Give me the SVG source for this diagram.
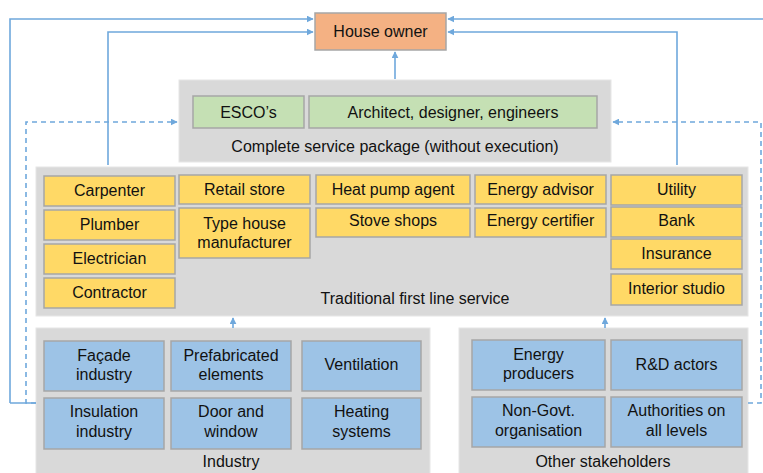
<svg xmlns="http://www.w3.org/2000/svg" width="763" height="473" viewBox="0 0 763 473">
<style>
text{font-family:"Liberation Sans",Arial,sans-serif;font-size:16px;fill:#111;text-anchor:middle}
.grp{fill:#d9d9d9;stroke:#e6e6e6;stroke-width:1}
.b{stroke:#a6a6a6;stroke-width:1.5}
.or{fill:#f4b183}
.gr{fill:#c5e0b4}
.ye{fill:#ffd966}
.bl{fill:#9dc3e6}
.ln{fill:none;stroke:#6fa8dc;stroke-width:1.6}
.ds{stroke-dasharray:5,4}
</style>
<defs>
<marker id="ah" viewBox="0 0 10 10" refX="9" refY="5" markerWidth="7" markerHeight="7" orient="auto" markerUnits="userSpaceOnUse">
<path d="M0,0 L10,5 L0,10 z" fill="#6fa8dc"/>
</marker>
</defs>
<rect width="763" height="473" fill="#fff"/>
<g id="groups">
<rect id="service-package" class="grp" x="179" y="80" width="432" height="82"/>
<rect id="traditional" class="grp" x="36" y="167" width="712" height="149"/>
<rect id="industry" class="grp" x="36" y="328" width="394" height="150"/>
<rect id="stakeholders" class="grp" x="459" y="328" width="289" height="150"/>
</g>
<g id="connectors">
<path class="ln" d="M10,403 L36,403 M10,403 L10,19 L313,19" marker-end="url(#ah)"/>
<path class="ln" d="M108,165 L108,32 L313,32" marker-end="url(#ah)"/>
<path class="ln" d="M770,19 L448,19" marker-end="url(#ah)"/>
<path class="ln" d="M677,165 L677,32 L448,32" marker-end="url(#ah)"/>
<path class="ln" d="M395,79 L395,52" marker-end="url(#ah)"/>
<path class="ln ds" d="M36,403 L26,403 L26,122 L177,122" marker-end="url(#ah)"/>
<path class="ln ds" d="M748,403 L761,403 L761,122 L613,122" marker-end="url(#ah)"/>
<path class="ln" d="M233,328 L233,318" marker-end="url(#ah)"/>
<path class="ln" d="M605,328 L605,318" marker-end="url(#ah)"/>
</g>
<g id="house-owner"><rect class="b or" x="315" y="13" width="131" height="37"/><text x="380.5" y="37">House owner</text></g>
<g id="escos"><rect class="b gr" x="193" y="96" width="111" height="32"/><text x="248.5" y="118">ESCO’s</text></g>
<g id="architect"><rect class="b gr" x="309" y="96" width="288" height="32"/><text x="453" y="118">Architect, designer, engineers</text></g>
<text x="395" y="152">Complete service package (without execution)</text>
<g id="carpenter"><rect class="b ye" x="44" y="176" width="131" height="30"/><text x="109.5" y="196">Carpenter</text></g>
<g id="plumber"><rect class="b ye" x="44" y="210" width="131" height="30"/><text x="109.5" y="230">Plumber</text></g>
<g id="electrician"><rect class="b ye" x="44" y="244" width="131" height="30"/><text x="109.5" y="264">Electrician</text></g>
<g id="contractor"><rect class="b ye" x="44" y="278" width="131" height="30"/><text x="109.5" y="298">Contractor</text></g>
<g id="retail"><rect class="b ye" x="179" y="175" width="131" height="29"/><text x="244.5" y="195">Retail store</text></g>
<g id="typehouse"><rect class="b ye" x="179" y="208" width="131" height="50"/><text x="244.5" y="229">Type house</text><text x="244.5" y="248">manufacturer</text></g>
<g id="heatpump"><rect class="b ye" x="316" y="175" width="154" height="29"/><text x="393" y="195">Heat pump agent</text></g>
<g id="stove"><rect class="b ye" x="316" y="208" width="154" height="29"/><text x="393" y="226">Stove shops</text></g>
<g id="energyadvisor"><rect class="b ye" x="475" y="175" width="131" height="29"/><text x="540.5" y="195">Energy advisor</text></g>
<g id="energycert"><rect class="b ye" x="475" y="208" width="131" height="29"/><text x="540.5" y="226">Energy certifier</text></g>
<g id="utility"><rect class="b ye" x="611" y="175" width="131" height="30"/><text x="676.5" y="195">Utility</text></g>
<g id="bank"><rect class="b ye" x="611" y="207" width="131" height="30"/><text x="676.5" y="226">Bank</text></g>
<g id="insurance"><rect class="b ye" x="611" y="239" width="131" height="30"/><text x="676.5" y="259">Insurance</text></g>
<g id="interior"><rect class="b ye" x="611" y="274" width="131" height="31"/><text x="676.5" y="294">Interior studio</text></g>
<text x="415" y="304">Traditional first line service</text>
<g id="facade"><rect class="b bl" x="44" y="341" width="120" height="50"/><text x="104" y="361">Façade</text><text x="104" y="380">industry</text></g>
<g id="prefab"><rect class="b bl" x="171" y="341" width="120" height="50"/><text x="231" y="361">Prefabricated</text><text x="231" y="380">elements</text></g>
<g id="ventilation"><rect class="b bl" x="302" y="341" width="119" height="50"/><text x="361.5" y="370">Ventilation</text></g>
<g id="insulation"><rect class="b bl" x="44" y="398" width="120" height="51"/><text x="104" y="417">Insulation</text><text x="104" y="437">industry</text></g>
<g id="doorwindow"><rect class="b bl" x="171" y="398" width="120" height="51"/><text x="231" y="417">Door and</text><text x="231" y="437">window</text></g>
<g id="heating"><rect class="b bl" x="302" y="398" width="119" height="51"/><text x="361.5" y="417">Heating</text><text x="361.5" y="437">systems</text></g>
<text x="231" y="467">Industry</text>
<g id="energyprod"><rect class="b bl" x="472" y="340" width="133" height="50"/><text x="538.5" y="360">Energy</text><text x="538.5" y="379">producers</text></g>
<g id="rnd"><rect class="b bl" x="611" y="340" width="131" height="50"/><text x="676.5" y="370">R&amp;D actors</text></g>
<g id="ngo"><rect class="b bl" x="472" y="397" width="133" height="50"/><text x="538.5" y="416">Non-Govt.</text><text x="538.5" y="436">organisation</text></g>
<g id="authorities"><rect class="b bl" x="611" y="397" width="131" height="50"/><text x="676.5" y="416">Authorities on</text><text x="676.5" y="436">all levels</text></g>
<text x="603" y="467">Other stakeholders</text>
</svg>
